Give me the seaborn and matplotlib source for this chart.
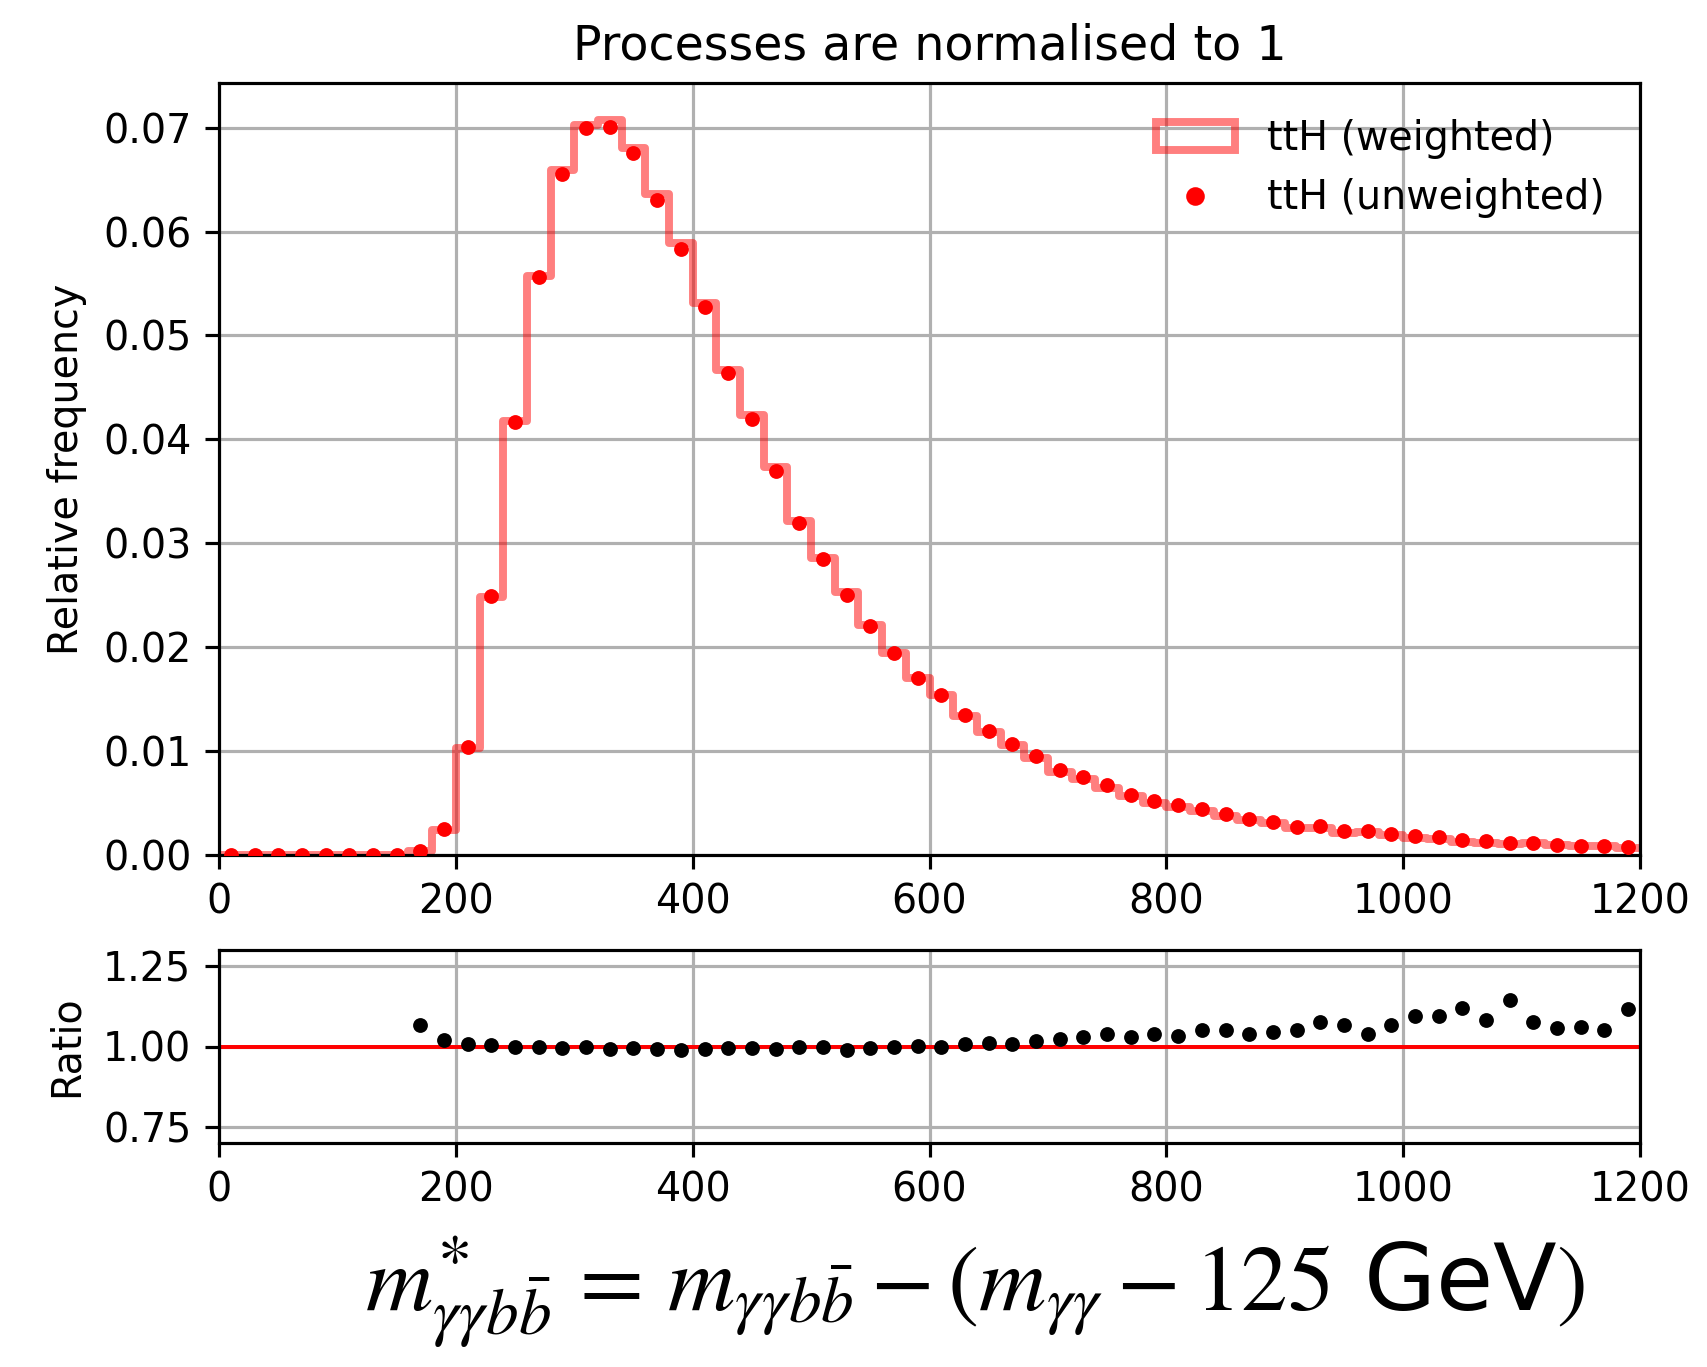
import numpy as np
import matplotlib
matplotlib.use("Agg")
import matplotlib.pyplot as plt
import seaborn as sns
from matplotlib.patches import Patch
from matplotlib.lines import Line2D

plt.rcParams['mathtext.fontset'] = 'stix'
plt.rcParams['font.family'] = ['DejaVu Sans']

# ---- data ----
bin_edges = list(range(0, 1201, 20))
bin_centers = [e + 10 for e in bin_edges[:-1]]

weighted = [0, 0, 0, 0, 0, 0, 0, 0,
            0.00037, 0.00245, 0.01033, 0.0248, 0.0418, 0.0557, 0.0659, 0.0703,
            0.0707, 0.0680, 0.0636, 0.0589, 0.0531, 0.0467, 0.0423, 0.0373,
            0.0321, 0.0286, 0.0253, 0.0221, 0.0194, 0.0170, 0.0154, 0.0134,
            0.0118, 0.0106, 0.00935, 0.0080, 0.00727, 0.00645, 0.00564, 0.00501,
            0.00465, 0.00419, 0.00371, 0.00337, 0.00307, 0.00257, 0.00260, 0.00216,
            0.00222, 0.00188, 0.00164, 0.00155, 0.00125, 0.00120, 0.00105, 0.00112,
            0.00095, 0.00085, 0.00086, 0.00072]

unweighted = [0, 0, 0, 0, 0, 0, 0, 0,
              0.0004, 0.0025, 0.0104, 0.0249, 0.0417, 0.0556, 0.0655, 0.0700,
              0.0701, 0.0676, 0.0630, 0.0583, 0.0527, 0.0464, 0.0420, 0.0370,
              0.0320, 0.0285, 0.0250, 0.0220, 0.0194, 0.0170, 0.0154, 0.0135,
              0.0119, 0.0107, 0.0095, 0.0082, 0.0075, 0.0067, 0.0058, 0.0052,
              0.0048, 0.0044, 0.0039, 0.0035, 0.0032, 0.0027, 0.0028, 0.0023,
              0.0023, 0.0020, 0.0018, 0.0017, 0.0014, 0.0013, 0.0012, 0.0012,
              0.0010, 0.0009, 0.0009, 0.0008]

ratio = [np.nan] * 8 + [
    1.067, 1.019, 1.007, 1.004, 0.998, 0.998, 0.994, 0.998,
    0.992, 0.994, 0.991, 0.989, 0.992, 0.994, 0.994, 0.991,
    0.998, 0.998, 0.989, 0.996, 1.000, 1.001, 1.000, 1.008,
    1.012, 1.008, 1.016, 1.023, 1.031, 1.038, 1.028, 1.038,
    1.033, 1.050, 1.050, 1.039, 1.044, 1.052, 1.075, 1.067,
    1.038, 1.066, 1.095, 1.095, 1.121, 1.081, 1.145, 1.075,
    1.057, 1.060, 1.050, 1.117]

x_ticks = [0, 200, 400, 600, 800, 1000, 1200]
y_ticks = [0.00, 0.01, 0.02, 0.03, 0.04, 0.05, 0.06, 0.07]
ratio_ticks = [0.75, 1.00, 1.25]

# ---- figure ----
DPI = 285
fig = plt.figure(figsize=(1707 / DPI, 1367 / DPI), dpi=DPI)
W, H = 1707, 1367
ax = fig.add_axes([219 / W, 1 - 855 / H, (1640 - 219) / W, (855 - 83) / H])
axr = fig.add_axes([219 / W, 1 - 1143 / H, (1640 - 219) / W, (1143 - 950) / H])

sns.histplot(x=bin_centers, weights=weighted, bins=bin_edges, element="step",
             fill=False, color="red", alpha=0.5, linewidth=2, ax=ax, zorder=2)
sns.scatterplot(x=bin_centers, y=unweighted, color="red", s=14, linewidth=0,
                ax=ax, zorder=3)

ax.set_xlim(0, 1200)
ax.set_ylim(0, 0.0743)
ax.set_xticks(x_ticks)
ax.set_yticks(y_ticks)
ax.set_yticklabels([f"{v:.2f}" for v in y_ticks])
ax.grid(True, color="#b0b0b0", linewidth=0.8)
ax.set_axisbelow(True)
ax.set_ylabel("Relative frequency", fontsize=10)
ax.set_xlabel("")
ax.set_title("Processes are normalised to 1", fontsize=12)
ax.tick_params(labelsize=10)

handles = [Patch(facecolor="none", edgecolor=(1, 0, 0, 0.5), linewidth=2),
           Line2D([], [], marker="o", color="red", linestyle="none", markersize=3.7)]
ax.legend(handles, ["ttH (weighted)", "ttH (unweighted)"], loc="upper right",
          frameon=False, fontsize=10)

sns.scatterplot(x=bin_centers, y=ratio, color="black", s=14, linewidth=0,
                ax=axr, zorder=3)
axr.axhline(1.0, color="red", linewidth=1, zorder=2)
axr.set_xlim(0, 1200)
axr.set_ylim(0.7, 1.3)
axr.set_xticks(x_ticks)
axr.set_yticks(ratio_ticks)
axr.set_yticklabels([f"{v:.2f}" for v in ratio_ticks])
axr.grid(True, color="#b0b0b0", linewidth=0.8)
axr.set_axisbelow(True)
axr.set_ylabel("Ratio", fontsize=10)
axr.tick_params(labelsize=10)
axr.set_xlabel(r"$m^{\ast}_{\gamma\gamma b\bar{b}}\,=\,m_{\gamma\gamma b\bar{b}} - (m_{\gamma\gamma} - 125$ GeV$)$",
               fontsize=23.5, labelpad=6)
axr.xaxis.label.set_x(0.532)

fig.savefig("out.png", dpi=DPI)
